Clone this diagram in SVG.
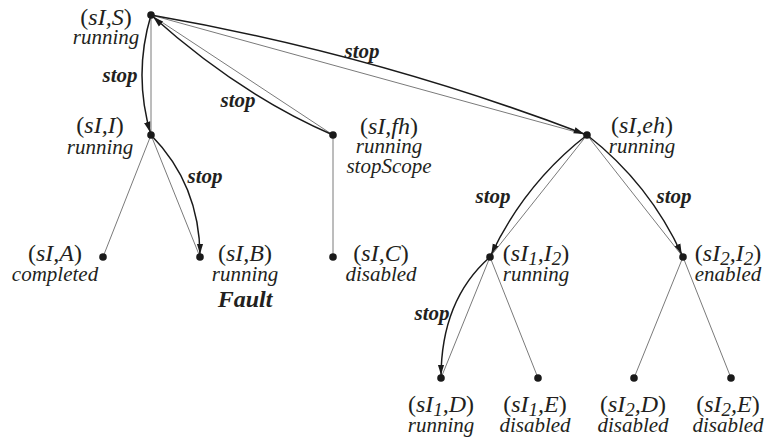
<svg xmlns="http://www.w3.org/2000/svg" width="768" height="444" viewBox="0 0 768 444">
<style>
text{font-family:"Liberation Serif","Times New Roman",serif;fill:#231f20;text-anchor:middle}
.tp{font-size:24px;font-style:italic}
.r{font-style:normal}
.sb{font-size:19px}
.st{font-size:21px;font-style:italic}
.lb{font-size:21px;font-style:italic;font-weight:bold}
.ft{font-size:24px;font-style:italic;font-weight:bold}
.tree{stroke:#7a7a7a;stroke-width:1;fill:none}
.stop{stroke:#1a1a1a;stroke-width:1.5;fill:none;marker-end:url(#ah)}
.dot{fill:#1a1a1a}
</style>
<defs>
<marker id="ah" markerUnits="userSpaceOnUse" markerWidth="14" markerHeight="8" viewBox="0 0 14 8" refX="13.5" refY="4" orient="auto">
<path d="M0,0.8 L10.5,4 L0,7.2 z" fill="#1a1a1a"/>
</marker>
</defs>
<g id="connectors">
<line class="tree" x1="151" y1="15" x2="151" y2="135"/>
<line class="tree" x1="151" y1="15" x2="333" y2="135"/>
<line class="tree" x1="151" y1="15" x2="587" y2="135"/>
<line class="tree" x1="151" y1="135" x2="103" y2="257"/>
<line class="tree" x1="151" y1="135" x2="200" y2="257"/>
<line class="tree" x1="333" y1="135" x2="333" y2="257"/>
<line class="tree" x1="587" y1="135" x2="490" y2="257"/>
<line class="tree" x1="587" y1="135" x2="683" y2="257"/>
<line class="tree" x1="490" y1="257" x2="441" y2="378"/>
<line class="tree" x1="490" y1="257" x2="538" y2="378"/>
<line class="tree" x1="683" y1="257" x2="634" y2="378"/>
<line class="tree" x1="683" y1="257" x2="731" y2="378"/>
<path class="stop" d="M151,15 Q133,75 151,135"/>
<path class="stop" d="M333,135 Q240,95 151,15"/>
<path class="stop" d="M151,15 Q375,54 587,135"/>
<path class="stop" d="M151,135 Q200,185 200,257"/>
<path class="stop" d="M587,135 Q524,184 490,257"/>
<path class="stop" d="M587,135 Q650,184 683,257"/>
<path class="stop" d="M490,257 Q441,300 441,378"/>
<text class="lb" x="120" y="82">stop</text>
<text class="lb" x="238" y="107">stop</text>
<text class="lb" x="362" y="58">stop</text>
<text class="lb" x="205" y="183">stop</text>
<text class="lb" x="493" y="203">stop</text>
<text class="lb" x="674" y="203">stop</text>
<text class="lb" x="432" y="320">stop</text>
</g>
<g id="sI_S">
<circle class="dot" cx="151" cy="15" r="3.8"/>
<text class="tp" x="106" y="25"><tspan class="r">(</tspan>sI,S<tspan class="r">)</tspan></text>
<text class="st" x="106" y="44">running</text>
</g>
<g id="sI_I">
<circle class="dot" cx="151" cy="135" r="3.8"/>
<text class="tp" x="100" y="133"><tspan class="r">(</tspan>sI,I<tspan class="r">)</tspan></text>
<text class="st" x="100" y="154">running</text>
</g>
<g id="sI_fh">
<circle class="dot" cx="333" cy="135" r="3.8"/>
<text class="tp" x="389" y="134"><tspan class="r">(</tspan>sI,fh<tspan class="r">)</tspan></text>
<text class="st" x="389" y="153">running</text>
<text class="st" x="389" y="173">stopScope</text>
</g>
<g id="sI_eh">
<circle class="dot" cx="587" cy="135" r="3.8"/>
<text class="tp" x="642" y="133"><tspan class="r">(</tspan>sI,eh<tspan class="r">)</tspan></text>
<text class="st" x="642" y="153">running</text>
</g>
<g id="sI_A">
<circle class="dot" cx="103" cy="257" r="3.8"/>
<text class="tp" x="55" y="261"><tspan class="r">(</tspan>sI,A<tspan class="r">)</tspan></text>
<text class="st" x="55" y="281">completed</text>
</g>
<g id="sI_B">
<circle class="dot" cx="200" cy="257" r="3.8"/>
<text class="tp" x="245" y="261"><tspan class="r">(</tspan>sI,B<tspan class="r">)</tspan></text>
<text class="st" x="245" y="281">running</text>
<text class="ft" x="245" y="307">Fault</text>
</g>
<g id="sI_C">
<circle class="dot" cx="333" cy="257" r="3.8"/>
<text class="tp" x="381" y="261"><tspan class="r">(</tspan>sI,C<tspan class="r">)</tspan></text>
<text class="st" x="381" y="281">disabled</text>
</g>
<g id="sI1_I2">
<circle class="dot" cx="490" cy="257" r="3.8"/>
<text class="tp" x="536" y="261"><tspan class="r">(</tspan>sI<tspan class="sb" dy="4">1</tspan><tspan dy="-4">,I</tspan><tspan class="sb" dy="4">2</tspan><tspan class="r" dy="-4">)</tspan></text>
<text class="st" x="536" y="281">running</text>
</g>
<g id="sI2_I2">
<circle class="dot" cx="683" cy="257" r="3.8"/>
<text class="tp" x="728" y="261"><tspan class="r">(</tspan>sI<tspan class="sb" dy="4">2</tspan><tspan dy="-4">,I</tspan><tspan class="sb" dy="4">2</tspan><tspan class="r" dy="-4">)</tspan></text>
<text class="st" x="728" y="281">enabled</text>
</g>
<g id="sI1_D">
<circle class="dot" cx="441" cy="378" r="3.8"/>
<text class="tp" x="441" y="412"><tspan class="r">(</tspan>sI<tspan class="sb" dy="4">1</tspan><tspan dy="-4">,D</tspan><tspan class="r">)</tspan></text>
<text class="st" x="441" y="432">running</text>
</g>
<g id="sI1_E">
<circle class="dot" cx="538" cy="378" r="3.8"/>
<text class="tp" x="535" y="412"><tspan class="r">(</tspan>sI<tspan class="sb" dy="4">1</tspan><tspan dy="-4">,E</tspan><tspan class="r">)</tspan></text>
<text class="st" x="535" y="432">disabled</text>
</g>
<g id="sI2_D">
<circle class="dot" cx="634" cy="378" r="3.8"/>
<text class="tp" x="633" y="412"><tspan class="r">(</tspan>sI<tspan class="sb" dy="4">2</tspan><tspan dy="-4">,D</tspan><tspan class="r">)</tspan></text>
<text class="st" x="633" y="432">disabled</text>
</g>
<g id="sI2_E">
<circle class="dot" cx="731" cy="378" r="3.8"/>
<text class="tp" x="728" y="412"><tspan class="r">(</tspan>sI<tspan class="sb" dy="4">2</tspan><tspan dy="-4">,E</tspan><tspan class="r">)</tspan></text>
<text class="st" x="728" y="432">disabled</text>
</g>
</svg>
